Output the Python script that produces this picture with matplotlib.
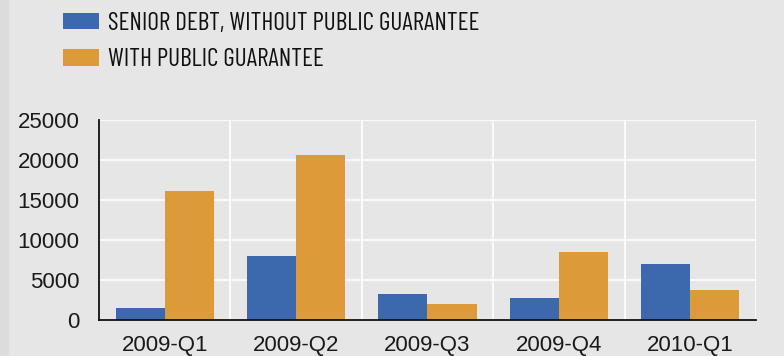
import matplotlib
matplotlib.use("Agg")
import matplotlib.pyplot as plt
import numpy as np

quarters = ["2009-Q1", "2009-Q2", "2009-Q3", "2009-Q4", "2010-Q1"]
senior_no_guarantee = [1500, 8000, 3250, 2750, 7000]
with_guarantee = [16100, 20600, 2000, 8500, 3750]
series_names = ["SENIOR DEBT, WITHOUT PUBLIC GUARANTEE", "WITH PUBLIC GUARANTEE"]
yticks = [0, 5000, 10000, 15000, 20000, 25000]

plt.rcParams['font.family'] = ['Liberation Sans', 'DejaVu Sans']

bg = "#e6e6e6"
blue = "#3c69ae"
orange = "#dc9a38"

fig = plt.figure(figsize=(7.84, 3.56), dpi=100, facecolor=bg)
# darker strip at the left edge
fig.patches.append(plt.Rectangle((0, 0), 8 / 784, 1, transform=fig.transFigure,
                                 color="#dcdcdc", zorder=0))

ax = fig.add_axes([99 / 784, 36 / 356, 657 / 784, 200 / 356])
ax.set_facecolor(bg)

x = np.arange(len(quarters))
w = 0.373
b1 = ax.bar(x - w / 2, senior_no_guarantee, w, color=blue, zorder=3)
b2 = ax.bar(x + w / 2, with_guarantee, w, color=orange, zorder=3)

ax.set_xlim(-0.5, len(quarters) - 0.5)
ax.set_ylim(0, 25000)
ax.set_yticks(yticks)
ax.set_xticks(x)
ax.set_xticklabels(quarters)
ax.set_xticks(np.arange(len(quarters) + 1) - 0.5, minor=True)

ax.grid(axis="y", color="white", linewidth=1.2, zorder=1)
ax.grid(axis="x", which="minor", color="white", linewidth=1.2, zorder=1)
ax.tick_params(axis="both", which="both", length=0, labelsize=16, colors="#1a1a1a")
ax.tick_params(axis="y", pad=14)
ax.tick_params(axis="x", pad=11)

for s in ["top", "right"]:
    ax.spines[s].set_visible(False)
for s in ["left", "bottom"]:
    ax.spines[s].set_color("#111111")
    ax.spines[s].set_linewidth(1.3)
    ax.spines[s].set_zorder(4)

# condensed face for the legend, like the original
leg_font = {'family': ['Barlow Condensed', 'Liberation Sans'], 'size': 18.2}
leg = fig.legend([b1, b2], series_names, loc="upper left",
                 bbox_to_anchor=(63 / 784, 1 - 12 / 356), frameon=False,
                 prop=leg_font, borderpad=0, borderaxespad=0,
                 handlelength=1.42, handleheight=0.63, handletextpad=0.36,
                 labelspacing=0.52)
for t in leg.get_texts():
    t.set_color("#111111")

fig.savefig("out.png", dpi=100, facecolor=bg)
